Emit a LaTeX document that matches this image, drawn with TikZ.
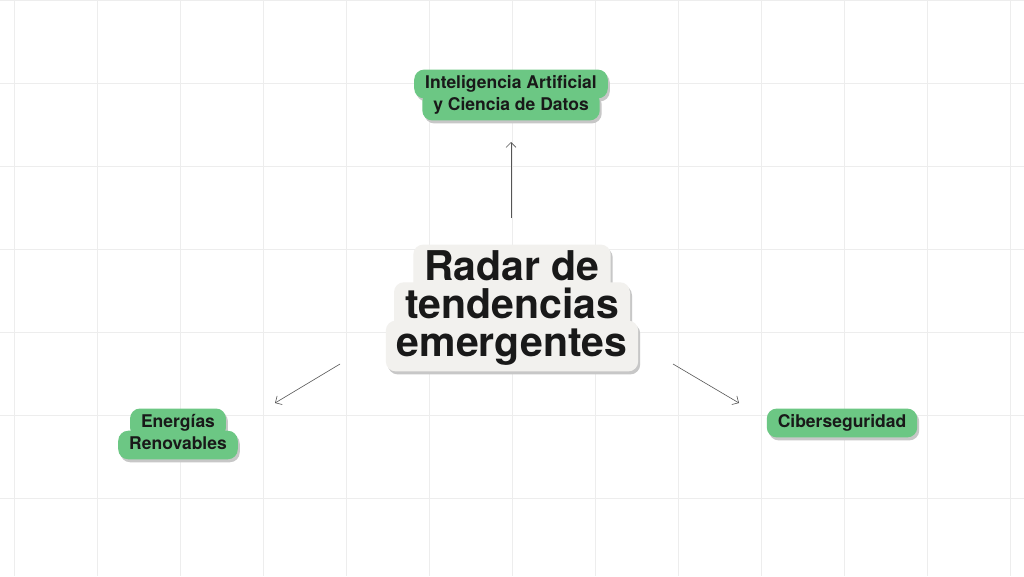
\documentclass[tikz,border=0pt]{standalone}
\usepackage{fontspec}
\setmainfont{TeX Gyre Heros}
\usetikzlibrary{arrows.meta}
\definecolor{stgreen}{HTML}{6CC784}
\definecolor{stcream}{HTML}{F2F1EE}
\definecolor{gridc}{HTML}{EDEDED}
\definecolor{arrc}{HTML}{555555}
\tikzset{
  shbox/.style={fill=black!22,rounded corners=10pt,inner xsep=11pt,inner ysep=6pt},
  flbox/.style={rounded corners=10pt,inner xsep=11pt,inner ysep=6pt},
  txbox/.style={text=black!90,inner sep=0pt},
  conn/.style={draw=arrc,line width=0.6pt,-{Straight Barb[length=5pt,width=10pt]}}
}
\newcommand\sticker[3]{%
  \foreach \x/\y/\t in {#3} \node[shbox,font=#2] at (\x+2,\y+3) {\phantom{\t}};
  \foreach \x/\y/\t in {#3} \node[flbox,fill=#1,font=#2] at (\x,\y) {\phantom{\t}};
  \foreach \x/\y/\t in {#3} \node[txbox,font=#2] at (\x,\y) {\t};
}
\begin{document}
\begin{tikzpicture}[x=1pt,y=-1pt]
\useasboundingbox (0,0) rectangle (1024,576);
\fill[white] (0,0) rectangle (1024,576);
\foreach \gx in {14,97,180,263,346,429,512,595,678,761,844,927,1010}
  \draw[gridc,line width=0.8pt] (\gx,0) -- (\gx,576);
\foreach \gy in {0,83,166,249,332,415,498}
  \draw[gridc,line width=0.8pt] (0,\gy) -- (1024,\gy);

\sticker{stcream}{\bfseries\fontsize{41}{41}\selectfont\vphantom{Rg}}{512/270/Radar de,512/308/tendencias,512/346/emergentes}
\sticker{stgreen}{\bfseries\fontsize{17.5}{17.5}\selectfont\vphantom{Ig}}{511/84/Inteligencia Artificial,511/106/y Ciencia de Datos}
\sticker{stgreen}{\bfseries\fontsize{17.5}{17.5}\selectfont\vphantom{Ig}}{178/423/Energías,178/445/Renovables}
\sticker{stgreen}{\bfseries\fontsize{17.5}{17.5}\selectfont\vphantom{Ig}}{842/423/Ciberseguridad}

\coordinate (cT) at (511,218);
\coordinate (cL) at (340,364);
\coordinate (cR) at (673,364);
\coordinate (ai) at (511,142);
\coordinate (en) at (275,403);
\coordinate (ci) at (739,403);
\draw[conn] (cT) -- (ai);
\draw[conn] (cL) -- (en);
\draw[conn] (cR) -- (ci);
\end{tikzpicture}
\end{document}
